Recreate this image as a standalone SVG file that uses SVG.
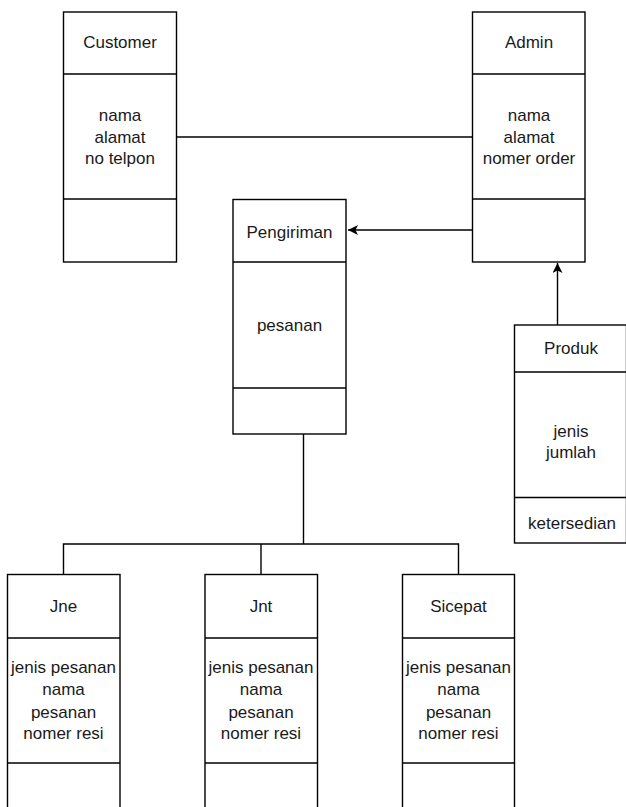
<svg xmlns="http://www.w3.org/2000/svg" width="626" height="807" viewBox="0 0 626 807">
<style>
.box{fill:#fff;stroke:#000;stroke-width:1.4}
.ln{fill:none;stroke:#000;stroke-width:1.4}
text{font-family:"Liberation Sans",Arial,sans-serif;font-size:17px;fill:#1a1a1a;text-anchor:middle}
</style>
<defs>
<marker id="arr" markerWidth="12" markerHeight="10" refX="10" refY="5" orient="auto" markerUnits="userSpaceOnUse">
<path d="M0,0 L10,5 L0,10 L2.5,5 Z" fill="#000"/>
</marker>
</defs>
<rect width="626" height="807" fill="#fff"/>
<g id="connectors">
<line class="ln" x1="177" y1="137" x2="472" y2="137"/>
<line class="ln" x1="472" y1="230" x2="348" y2="230" marker-end="url(#arr)"/>
<line class="ln" x1="557.5" y1="325" x2="557.5" y2="263" marker-end="url(#arr)"/>
<polyline class="ln" points="303.5,434 303.5,544"/>
<polyline class="ln" points="63.5,574 63.5,544 458.5,544 458.5,574"/>
<line class="ln" x1="261" y1="544" x2="261" y2="574"/>
</g>
<g id="customer">
<rect class="box" x="63.5" y="12" width="113" height="250"/>
<line class="ln" x1="63.5" y1="74" x2="176.5" y2="74"/>
<line class="ln" x1="63.5" y1="199" x2="176.5" y2="199"/>
<text x="120" y="48">Customer</text>
<text x="120" y="121">nama</text>
<text x="120" y="143">alamat</text>
<text x="120" y="164">no telpon</text>
</g>
<g id="admin">
<rect class="box" x="472.5" y="12" width="112.5" height="250"/>
<line class="ln" x1="472.5" y1="74" x2="585" y2="74"/>
<line class="ln" x1="472.5" y1="199" x2="585" y2="199"/>
<text x="529" y="48">Admin</text>
<text x="529" y="121">nama</text>
<text x="529" y="143">alamat</text>
<text x="529" y="164">nomer order</text>
</g>
<g id="pengiriman">
<rect class="box" x="233" y="199.5" width="113" height="234.5"/>
<line class="ln" x1="233" y1="262" x2="346" y2="262"/>
<line class="ln" x1="233" y1="388" x2="346" y2="388"/>
<text x="289.5" y="237.5">Pengiriman</text>
<text x="289.5" y="331">pesanan</text>
</g>
<g id="produk">
<rect class="box" x="514.5" y="325" width="112" height="218"/>
<line class="ln" x1="514.5" y1="372" x2="626" y2="372"/>
<line class="ln" x1="514.5" y1="497.5" x2="626" y2="497.5"/>
<text x="571" y="354">Produk</text>
<text x="571" y="436.5">jenis</text>
<text x="571" y="457.5">jumlah</text>
<text x="572" y="529">ketersedian</text>
</g>
<g id="jne">
<rect class="box" x="7.5" y="574.5" width="112.5" height="240"/>
<line class="ln" x1="7.5" y1="638" x2="120" y2="638"/>
<line class="ln" x1="7.5" y1="763" x2="120" y2="763"/>
<text x="63.5" y="612">Jne</text>
<text x="63.5" y="672.5">jenis pesanan</text>
<text x="63.5" y="695">nama</text>
<text x="63.5" y="717.5">pesanan</text>
<text x="63.5" y="739">nomer resi</text>
</g>
<g id="jnt">
<rect class="box" x="205" y="574.5" width="112.5" height="240"/>
<line class="ln" x1="205" y1="638" x2="317.5" y2="638"/>
<line class="ln" x1="205" y1="763" x2="317.5" y2="763"/>
<text x="261" y="612">Jnt</text>
<text x="261" y="672.5">jenis pesanan</text>
<text x="261" y="695">nama</text>
<text x="261" y="717.5">pesanan</text>
<text x="261" y="739">nomer resi</text>
</g>
<g id="sicepat">
<rect class="box" x="402.5" y="574.5" width="112" height="240"/>
<line class="ln" x1="402.5" y1="638" x2="514.5" y2="638"/>
<line class="ln" x1="402.5" y1="763" x2="514.5" y2="763"/>
<text x="458.5" y="612">Sicepat</text>
<text x="458.5" y="672.5">jenis pesanan</text>
<text x="458.5" y="695">nama</text>
<text x="458.5" y="717.5">pesanan</text>
<text x="458.5" y="739">nomer resi</text>
</g>
</svg>
